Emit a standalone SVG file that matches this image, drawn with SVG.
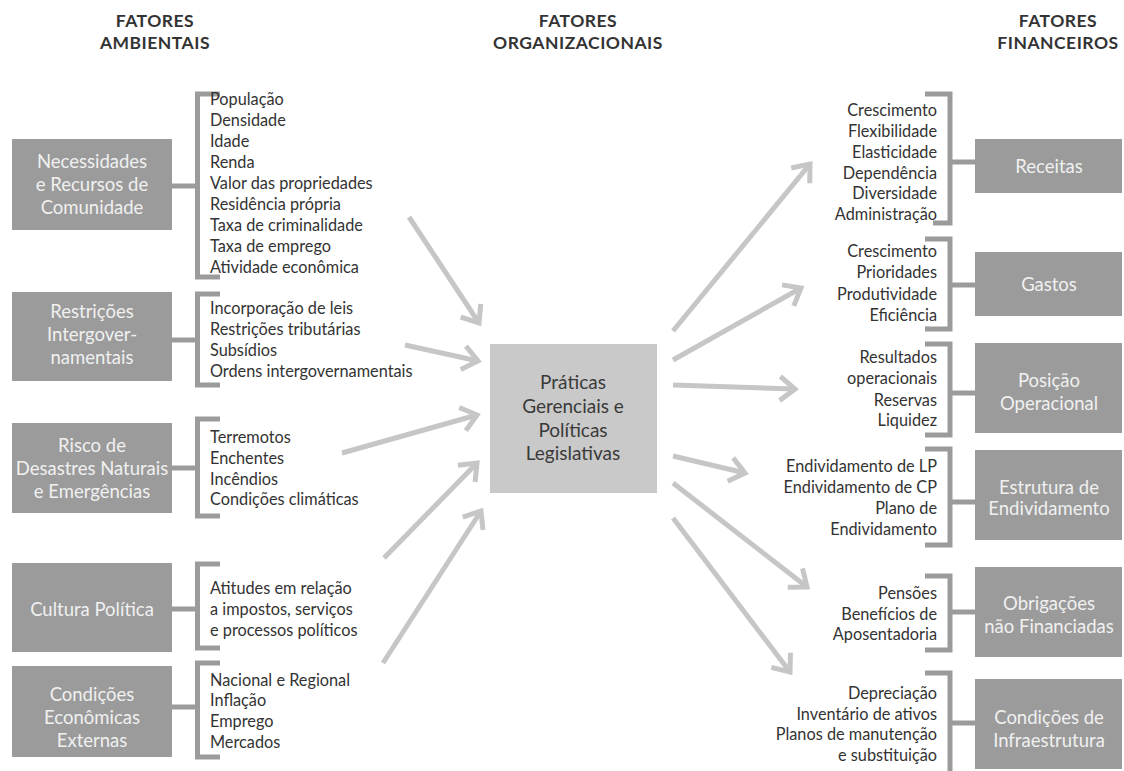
<svg xmlns="http://www.w3.org/2000/svg" width="1124" height="771" viewBox="0 0 1124 771">
<style>
.hdr{font-family:Lato,"Open Sans",sans-serif;font-weight:bold;font-size:17.5px;letter-spacing:0.5px;fill:#333;text-anchor:middle}
.box{fill:#9b9b9b}
.btxt{font-family:Lato,"Open Sans",sans-serif;font-size:18.5px;fill:#f0f0f0;text-anchor:middle}
.item{font-family:Lato,"Open Sans",sans-serif;font-size:16.3px;fill:#333}
.ritem{font-family:Lato,"Open Sans",sans-serif;font-size:16.3px;fill:#333;text-anchor:end}
.br{fill:none;stroke:#9b9b9b;stroke-width:5}
.arr{fill:none;stroke:#c6c6c6;stroke-width:5;marker-end:url(#chev)}
.ctr{fill:#c9c9c9}
.ctxt{font-family:Lato,"Open Sans",sans-serif;font-size:19px;fill:#3a3a3a;text-anchor:middle}
</style>
<defs>
<marker id="chev" markerUnits="userSpaceOnUse" viewBox="-20 -14 24 28" markerWidth="24" markerHeight="28" refX="0" refY="0" orient="auto" overflow="visible">
<path d="M-15,-12 L0,0 L-15,12" fill="none" stroke="#c6c6c6" stroke-width="5"/>
</marker>
</defs>
<rect width="1124" height="771" fill="#ffffff"/>
<g id="headers">
<text class="hdr" x="155" y="27">FATORES</text>
<text class="hdr" x="155" y="49">AMBIENTAIS</text>
<text class="hdr" x="578" y="27">FATORES</text>
<text class="hdr" x="578" y="49">ORGANIZACIONAIS</text>
<text class="hdr" x="1058" y="27">FATORES</text>
<text class="hdr" x="1058" y="49">FINANCEIROS</text>
</g>
<g id="connectors">
<line class="arr" x1="409" y1="217" x2="479" y2="323"/>
<line class="arr" x1="405" y1="345" x2="478" y2="361"/>
<line class="arr" x1="342" y1="453" x2="477" y2="415"/>
<line class="arr" x1="384" y1="558" x2="477" y2="463"/>
<line class="arr" x1="383" y1="663" x2="481" y2="511"/>
<line class="arr" x1="673" y1="331" x2="810" y2="164"/>
<line class="arr" x1="673" y1="360" x2="801" y2="288"/>
<line class="arr" x1="673" y1="385" x2="795" y2="389"/>
<line class="arr" x1="673" y1="456" x2="745" y2="473"/>
<line class="arr" x1="673" y1="483" x2="807" y2="587"/>
<line class="arr" x1="673" y1="518" x2="790" y2="672"/>
</g>
<g id="center">
<rect class="ctr" x="490" y="344" width="167" height="149"/>
<text class="ctxt" x="573" y="389">Práticas</text>
<text class="ctxt" x="573" y="413">Gerenciais e</text>
<text class="ctxt" x="573" y="437">Políticas</text>
<text class="ctxt" x="573" y="460">Legislativas</text>
</g>
<g id="necessidades">
<rect class="box" x="12" y="139" width="160" height="91"/>
<text class="btxt" x="92" y="168">Necessidades</text>
<text class="btxt" x="92" y="191">e Recursos de</text>
<text class="btxt" x="92" y="214">Comunidade</text>
<path class="br" d="M172,186 H197.5 M220,94 H197.5 V277 H220"/>
<text class="item" x="210" y="105">População</text>
<text class="item" x="210" y="126">Densidade</text>
<text class="item" x="210" y="147">Idade</text>
<text class="item" x="210" y="168">Renda</text>
<text class="item" x="210" y="189">Valor das propriedades</text>
<text class="item" x="210" y="210">Residência própria</text>
<text class="item" x="210" y="231">Taxa de criminalidade</text>
<text class="item" x="210" y="252">Taxa de emprego</text>
<text class="item" x="210" y="273">Atividade econômica</text>
</g>
<g id="restricoes">
<rect class="box" x="12" y="292" width="160" height="89"/>
<text class="btxt" x="92" y="318">Restrições</text>
<text class="btxt" x="92" y="341">Intergover-</text>
<text class="btxt" x="92" y="364">namentais</text>
<path class="br" d="M172,340 H197.5 M220,294 H197.5 V385 H220"/>
<text class="item" x="210" y="314">Incorporação de leis</text>
<text class="item" x="210" y="335">Restrições tributárias</text>
<text class="item" x="210" y="356">Subsídios</text>
<text class="item" x="210" y="377">Ordens intergovernamentais</text>
</g>
<g id="risco">
<rect class="box" x="12" y="423" width="160" height="90"/>
<text class="btxt" x="92" y="452">Risco de</text>
<text class="btxt" x="92" y="475">Desastres Naturais</text>
<text class="btxt" x="92" y="498">e Emergências</text>
<path class="br" d="M172,468 H197.5 M220,419 H197.5 V516 H220"/>
<text class="item" x="210" y="443">Terremotos</text>
<text class="item" x="210" y="464">Enchentes</text>
<text class="item" x="210" y="485">Incêndios</text>
<text class="item" x="210" y="505">Condições climáticas</text>
</g>
<g id="cultura">
<rect class="box" x="12" y="563" width="160" height="89"/>
<text class="btxt" x="92" y="616">Cultura Política</text>
<path class="br" d="M172,609 H197.5 M220,564 H197.5 V648 H220"/>
<text class="item" x="210" y="594">Atitudes em relação</text>
<text class="item" x="210" y="615">a impostos, serviços</text>
<text class="item" x="210" y="636">e processos políticos</text>
</g>
<g id="condicoes-economicas">
<rect class="box" x="12" y="666" width="160" height="91"/>
<text class="btxt" x="92" y="701">Condições</text>
<text class="btxt" x="92" y="724">Econômicas</text>
<text class="btxt" x="92" y="747">Externas</text>
<path class="br" d="M172,707 H197.5 M220,663 H197.5 V757 H220"/>
<text class="item" x="210" y="686">Nacional e Regional</text>
<text class="item" x="210" y="706">Inflação</text>
<text class="item" x="210" y="727">Emprego</text>
<text class="item" x="210" y="748">Mercados</text>
</g>
<g id="receitas">
<rect class="box" x="975" y="139" width="147" height="54"/>
<text class="btxt" x="1049" y="173">Receitas</text>
<path class="br" d="M950,162 H975 M925,94 H950 V223 H933"/>
<text class="ritem" x="937" y="116">Crescimento</text>
<text class="ritem" x="937" y="137">Flexibilidade</text>
<text class="ritem" x="937" y="158">Elasticidade</text>
<text class="ritem" x="937" y="179">Dependência</text>
<text class="ritem" x="937" y="199">Diversidade</text>
<text class="ritem" x="937" y="220">Administração</text>
</g>
<g id="gastos">
<rect class="box" x="975" y="252" width="147" height="64"/>
<text class="btxt" x="1049" y="291">Gastos</text>
<path class="br" d="M950,285 H975 M925,239 H950 V329 H925"/>
<text class="ritem" x="937" y="257">Crescimento</text>
<text class="ritem" x="937" y="278">Prioridades</text>
<text class="ritem" x="937" y="300">Produtividade</text>
<text class="ritem" x="937" y="321">Eficiência</text>
</g>
<g id="posicao">
<rect class="box" x="975" y="343" width="147" height="90"/>
<text class="btxt" x="1049" y="387">Posição</text>
<text class="btxt" x="1049" y="410">Operacional</text>
<path class="br" d="M950,393 H975 M925,344 H950 V435 H925"/>
<text class="ritem" x="937" y="363">Resultados</text>
<text class="ritem" x="937" y="384">operacionais</text>
<text class="ritem" x="937" y="406">Reservas</text>
<text class="ritem" x="937" y="426">Liquidez</text>
</g>
<g id="estrutura">
<rect class="box" x="975" y="450" width="147" height="90"/>
<text class="btxt" x="1049" y="494">Estrutura de</text>
<text class="btxt" x="1049" y="515">Endividamento</text>
<path class="br" d="M950,502 H975 M925,449 H950 V545 H925"/>
<text class="ritem" x="937" y="472">Endividamento de LP</text>
<text class="ritem" x="937" y="493">Endividamento de CP</text>
<text class="ritem" x="937" y="514">Plano de</text>
<text class="ritem" x="937" y="535">Endividamento</text>
</g>
<g id="obrigacoes">
<rect class="box" x="975" y="567" width="147" height="90"/>
<text class="btxt" x="1049" y="610">Obrigações</text>
<text class="btxt" x="1049" y="633">não Financiadas</text>
<path class="br" d="M950,612 H975 M925,576 H950 V650 H925"/>
<text class="ritem" x="937" y="599">Pensões</text>
<text class="ritem" x="937" y="620">Benefícios de</text>
<text class="ritem" x="937" y="640">Aposentadoria</text>
</g>
<g id="infraestrutura">
<rect class="box" x="975" y="679" width="147" height="90"/>
<text class="btxt" x="1049" y="724">Condições de</text>
<text class="btxt" x="1049" y="747">Infraestrutura</text>
<path class="br" d="M950,723 H975 M925,673 H950 V771"/>
<text class="ritem" x="937" y="699">Depreciação</text>
<text class="ritem" x="937" y="720">Inventário de ativos</text>
<text class="ritem" x="937" y="740">Planos de manutenção</text>
<text class="ritem" x="937" y="761">e substituição</text>
</g>
</svg>
